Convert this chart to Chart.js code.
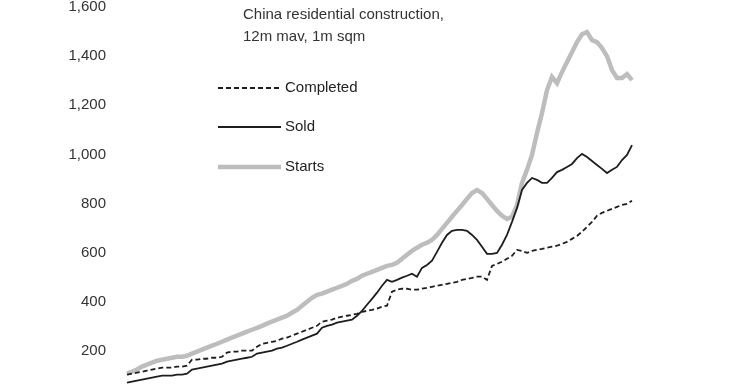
<!DOCTYPE html>
<html>
<head>
<meta charset="utf-8">
<script src="https://cdn.jsdelivr.net/npm/chart.js@4.4.0/dist/chart.umd.min.js"></script>
<style>
  html, body { margin: 0; padding: 0; background: #fff; overflow: hidden; }
  canvas { display: block; }
</style>
</head>
<body>
<canvas id="grafico" width="740" height="400"></canvas>
<script>
// 12m mav, 1m sqm, every second month (x axis is cut off in the original)
const titulo = ["China residential construction,", "12m mav, 1m sqm"];
const nombresSeries = ["Completed", "Sold", "Starts"];
const ticksY = [200, 400, 600, 800, 1000, 1200, 1400, 1600];

const completed = [
  103, 107, 111, 115, 120, 124, 128, 132, 132, 132,
  136, 136, 140, 164, 164, 168, 168, 172, 172, 176,
  193, 197, 197, 201, 201, 201, 217, 229, 233, 237,
  241, 250, 254, 262, 270, 278, 286, 294, 302, 319,
  323, 327, 335, 339, 343, 347, 351, 359, 363, 367,
  372, 380, 384, 441, 449, 453, 453, 449, 449, 453,
  457, 461, 465, 469, 473, 477, 481, 489, 493, 497,
  502, 502, 489, 546, 554, 563, 575, 587, 611, 607,
  599, 607, 611, 615, 620, 624, 628, 636, 644, 656,
  668, 685, 705, 725, 750, 762, 770, 778, 786, 794,
  798, 811
];

const sold = [
  71, 75, 79, 83, 87, 91, 95, 99, 99, 99,
  103, 103, 107, 124, 128, 132, 136, 140, 144, 148,
  156, 160, 164, 168, 172, 176, 189, 193, 197, 201,
  209, 213, 221, 229, 237, 246, 254, 262, 270, 294,
  302, 307, 315, 319, 323, 327, 343, 363, 388, 412,
  437, 465, 489, 481, 489, 498, 506, 514, 502, 538,
  550, 567, 603, 640, 672, 689, 693, 693, 689, 672,
  652, 624, 595, 595, 599, 632, 672, 725, 782, 855,
  884, 904, 896, 884, 884, 904, 928, 937, 949, 961,
  985, 1002, 989, 973, 957, 941, 924, 937, 949, 977,
  998, 1038
];

const starts = [
  107, 115, 124, 136, 144, 152, 160, 164, 168, 172,
  176, 176, 180, 189, 197, 205, 213, 221, 229, 237,
  246, 254, 262, 270, 278, 286, 294, 302, 311, 319,
  327, 335, 343, 355, 367, 384, 400, 416, 428, 433,
  441, 449, 457, 465, 473, 485, 493, 506, 514, 522,
  530, 538, 546, 550, 559, 575, 591, 607, 620, 632,
  640, 652, 672, 697, 721, 746, 770, 794, 819, 843,
  855, 843, 819, 794, 770, 750, 737, 746, 794, 884,
  937, 998, 1087, 1168, 1262, 1315, 1290, 1335, 1376, 1416,
  1457, 1489, 1498, 1465, 1457, 1433, 1400, 1343, 1311, 1311,
  1327, 1302
];

const periodos = [];
for (let i = 0; i < starts.length; i++) {
  const m = 8 + i * 2;
  periodos.push((1996 + Math.floor(m / 12)) + "-" + String((m % 12) + 1).padStart(2, "0"));
}

const fuente = "'Liberation Sans', Arial, sans-serif";

const estilos = [
  { color: "#1e1e1e", ancho: 1.8, guion: [5, 3] },
  { color: "#1e1e1e", ancho: 1.8, guion: [] },
  { color: "#bdbdbd", ancho: 4.5, guion: [] },
];

const rotulos = {
  id: "rotulos",
  afterDraw(chart) {
    const ctx = chart.ctx;
    ctx.save();
    ctx.font = "15px " + fuente;
    ctx.fillStyle = "#333";
    ctx.textBaseline = "middle";
    ctx.fillText(titulo[0], 243, 15);
    ctx.fillText(titulo[1], 243, 37);

    const filas = [88, 127, 167];
    nombresSeries.forEach((nombre, i) => {
      ctx.beginPath();
      ctx.strokeStyle = estilos[i].color;
      ctx.lineWidth = estilos[i].ancho;
      ctx.setLineDash(estilos[i].guion);
      ctx.moveTo(218, filas[i]);
      ctx.lineTo(281, filas[i]);
      ctx.stroke();
      ctx.setLineDash([]);
      ctx.fillStyle = "#222";
      ctx.fillText(nombre, 285, filas[i]);
    });
    ctx.restore();
  },
};

const series = [completed, sold, starts];

const ctx = document.getElementById("grafico").getContext("2d");
const grafico = new Chart(ctx, {
  type: "line",
  data: {
    labels: periodos,
    datasets: series.map((valores, i) => ({
      label: nombresSeries[i],
      data: valores,
      borderColor: estilos[i].color,
      borderWidth: estilos[i].ancho,
      borderDash: estilos[i].guion,
      pointRadius: 0,
      tension: 0,
      fill: false,
    })),
  },
  options: {
    responsive: false,
    animation: false,
    layout: { padding: { left: 0, right: 108, top: 0, bottom: 0 } },
    plugins: {
      legend: { display: false },
      tooltip: { enabled: false },
    },
    scales: {
      x: { display: false, offset: false },
      y: {
        min: 0,
        max: 1600,
        afterFit(scale) {
          scale.width = 127;
          scale.paddingTop = 7;
          scale.paddingBottom = 0;
        },
        afterBuildTicks(scale) { scale.ticks = ticksY.map((v) => ({ value: v })); },
        grid: { display: false, drawTicks: false },
        border: { display: false },
        ticks: {
          padding: 21,
          color: "#333",
          font: { family: fuente, size: 15 },
          callback: (v) => v.toLocaleString("en-US"),
        },
      },
    },
  },
  plugins: [rotulos],
});
</script>
</body>
</html>
